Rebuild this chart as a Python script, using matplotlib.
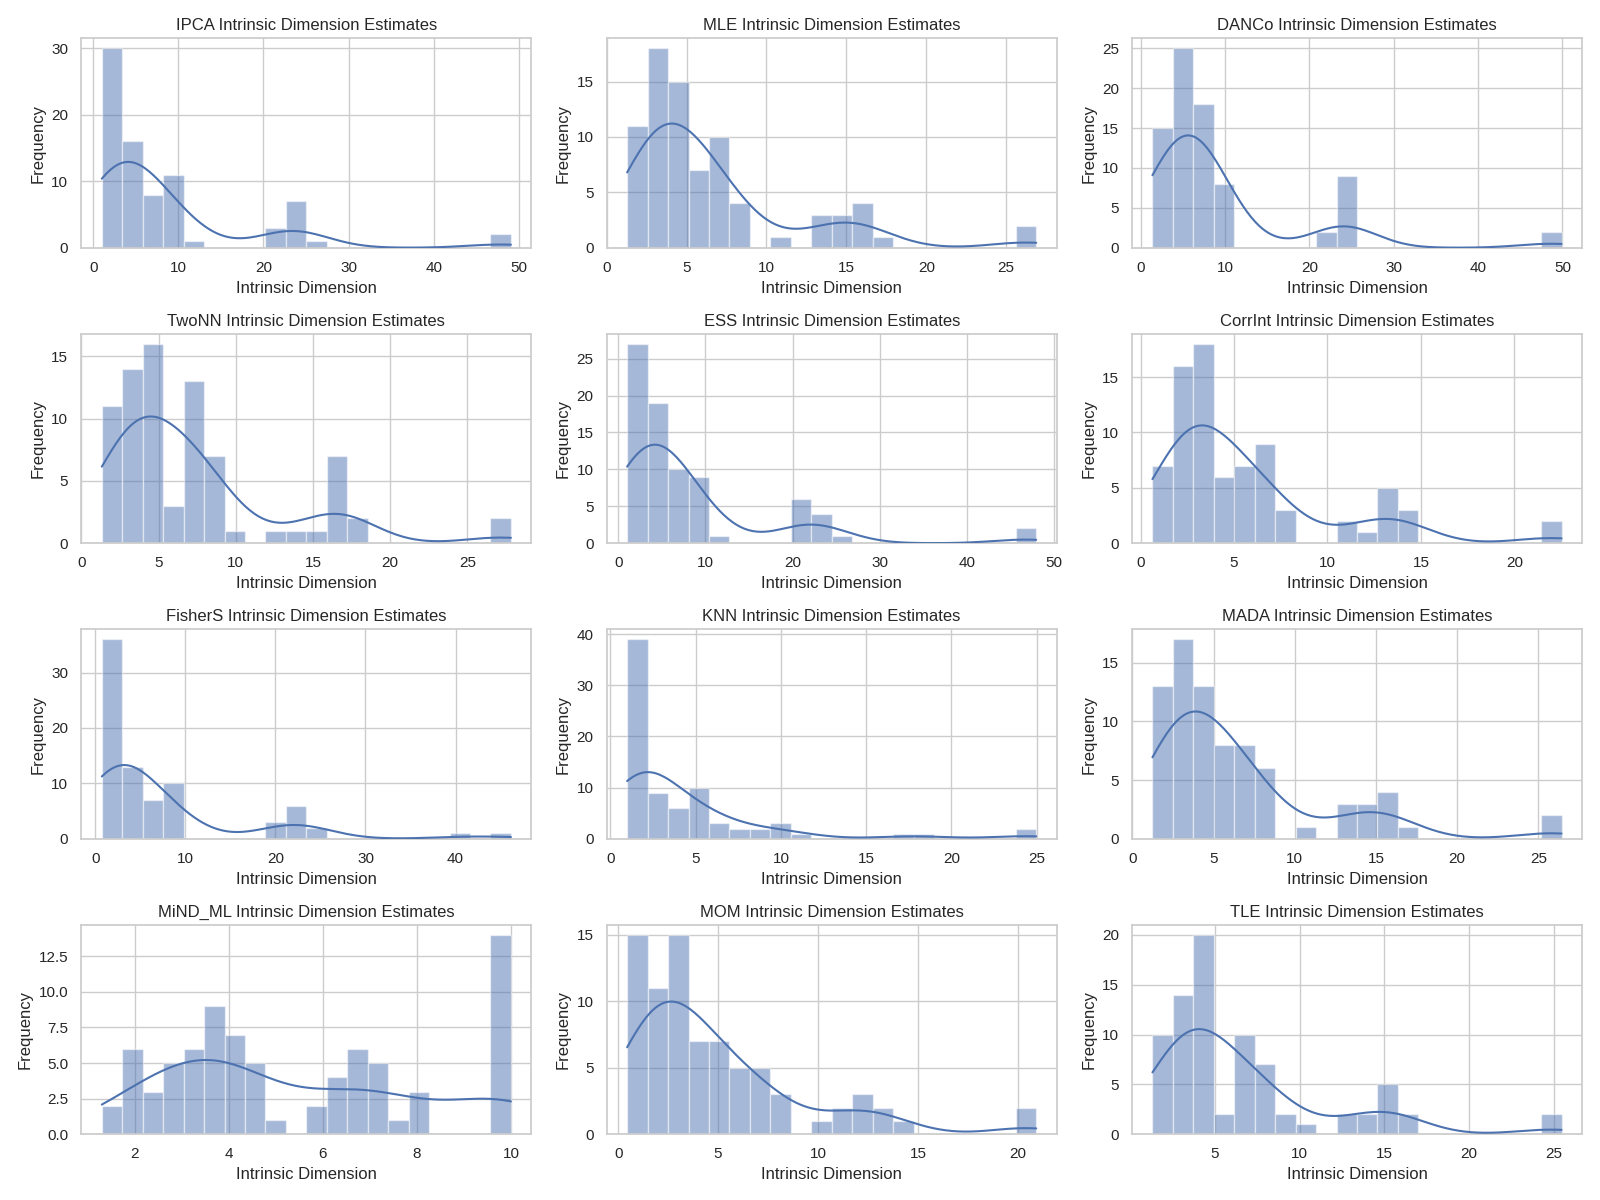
import numpy as np
import matplotlib
matplotlib.use("Agg")
import matplotlib.pyplot as plt
import seaborn as sns

# ---- data (20 equal-width bins between min and max) ----
methods = ["IPCA", "MLE", "DANCo", "TwoNN", "ESS", "CorrInt",
           "FisherS", "KNN", "MADA", "MiND_ML", "MOM", "TLE"]

x_min = [1.02, 1.28, 1.40, 1.32, 1.03, 0.63, 0.74, 0.98, 1.23, 1.295, 0.45, 1.31]
x_max = [49.06, 26.88, 49.90, 27.82, 47.93, 22.53, 46.14, 24.98, 26.43, 10.00, 20.92, 25.47]

counts_ipca    = [30, 16, 8, 11, 1, 0, 0, 0, 3, 7, 1, 0, 0, 0, 0, 0, 0, 0, 0, 2]
counts_mle     = [11, 18, 15, 7, 10, 4, 0, 1, 0, 3, 3, 4, 1, 0, 0, 0, 0, 0, 0, 2]
counts_danco   = [15, 25, 18, 8, 0, 0, 0, 0, 2, 9, 0, 0, 0, 0, 0, 0, 0, 0, 0, 2]
counts_twonn   = [11, 14, 16, 3, 13, 7, 1, 0, 1, 1, 1, 7, 2, 0, 0, 0, 0, 0, 0, 2]
counts_ess     = [27, 19, 10, 9, 1, 0, 0, 0, 6, 4, 1, 0, 0, 0, 0, 0, 0, 0, 0, 2]
counts_corrint = [7, 16, 18, 6, 7, 9, 3, 0, 0, 2, 1, 5, 3, 0, 0, 0, 0, 0, 0, 2]
counts_fishers = [36, 13, 7, 10, 0, 0, 0, 0, 3, 6, 2, 0, 0, 0, 0, 0, 0, 1, 0, 1]
counts_knn     = [39, 9, 6, 10, 3, 2, 2, 3, 1, 0, 0, 0, 0, 1, 1, 0, 0, 0, 0, 2]
counts_mada    = [13, 17, 13, 8, 8, 6, 0, 1, 0, 3, 3, 4, 1, 0, 0, 0, 0, 0, 0, 2]
counts_mind_ml = [2, 6, 3, 5, 6, 9, 7, 5, 1, 0, 2, 4, 6, 5, 1, 3, 0, 0, 0, 14]
counts_mom     = [15, 11, 15, 7, 7, 5, 5, 3, 0, 1, 2, 3, 2, 1, 0, 0, 0, 0, 0, 2]
counts_tle     = [10, 14, 20, 2, 10, 7, 2, 1, 0, 2, 2, 5, 2, 0, 0, 0, 0, 0, 0, 2]

all_counts = [counts_ipca, counts_mle, counts_danco, counts_twonn, counts_ess,
              counts_corrint, counts_fishers, counts_knn, counts_mada,
              counts_mind_ml, counts_mom, counts_tle]

# ---- style ----
sns.set_theme(style="whitegrid", context="notebook")
plt.rcParams["font.family"] = ["Liberation Sans", "DejaVu Sans"]

blue = sns.color_palette("deep")[0]


def kde_line(edges, counts):
    centers = 0.5 * (edges[:-1] + edges[1:])
    w = np.asarray(counts, dtype=float)
    n = w.sum()
    mean = np.sum(w * centers) / n
    var = np.sum(w * (centers - mean) ** 2) / (n - 1)
    bw = np.sqrt(var) * n ** (-1.0 / 5.0)
    grid = np.linspace(edges[0], edges[-1], 200)
    z = (grid[:, None] - centers[None, :]) / bw
    dens = (w[None, :] * np.exp(-0.5 * z ** 2)).sum(axis=1) / (n * bw * np.sqrt(2 * np.pi))
    binw = edges[1] - edges[0]
    return grid, dens * n * binw


fig, axes = plt.subplots(4, 3, figsize=(16, 12), dpi=100)
for ax, name, lo, hi, cnt in zip(axes.flat, methods, x_min, x_max, all_counts):
    edges = np.linspace(lo, hi, len(cnt) + 1)
    ax.bar(edges[:-1], cnt, width=np.diff(edges), align="edge",
           color=blue, alpha=0.5, edgecolor="white", linewidth=1.0, zorder=2)
    gx, gy = kde_line(edges, cnt)
    ax.plot(gx, gy, color=blue, linewidth=1.5, zorder=3)
    ax.set_title(f"{name} Intrinsic Dimension Estimates", fontsize=12)
    ax.set_xlabel("Intrinsic Dimension", fontsize=12)
    ax.set_ylabel("Frequency", fontsize=12)
    ax.set_axisbelow(True)

fig.tight_layout()
fig.savefig("out.png", dpi=100)
